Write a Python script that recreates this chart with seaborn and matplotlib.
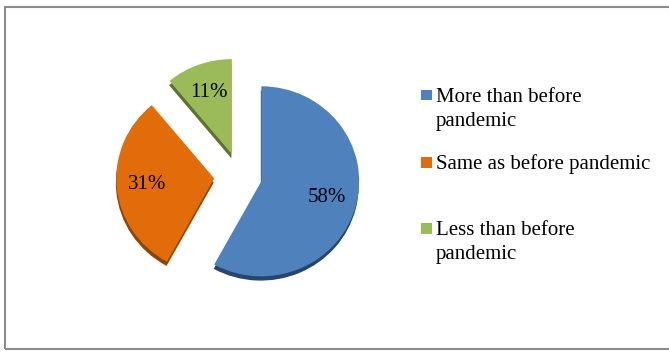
import matplotlib
matplotlib.use("Agg")
import matplotlib.pyplot as plt
from matplotlib.patches import Rectangle
import seaborn as sns

# Survey responses (share of respondents, %)
categories = ["More than before\npandemic", "Same as before pandemic", "Less than before\npandemic"]
shares = [58, 31, 11]
explode = [0.225, 0.265, 0.245]

face_colors = ["#4F81BD", "#E36C0A", "#9BBB59"]
side_colors = ["#27466F", "#8E4608", "#5B7230"]

sns.set_theme(style="white")
plt.rcParams["font.family"] = ["Liberation Serif", "DejaVu Serif"]

W, H = 669, 352
fig = plt.figure(figsize=(W / 100, H / 100), dpi=100)
fig.patch.set_facecolor("white")

# pie axes: centre at (240, 176) px, radius 1 = 95 px, slightly wider than tall
cx, cy, half = 240, 176, 140
ax = fig.add_axes([(cx - half) / W, (H - cy - half) / H, 2 * half / W, 2 * half / H])

# darker side of each slice, slightly below the top face
ax.pie(shares, explode=explode, colors=side_colors, startangle=90,
       counterclock=False, radius=1, center=(-0.005, -0.045),
       wedgeprops=dict(linewidth=0))
# top faces with percentage labels
wedges, _, autotexts = ax.pie(
    shares, explode=explode, colors=face_colors, startangle=90,
    counterclock=False, radius=1, center=(0, 0),
    autopct="%d%%", pctdistance=0.69,
    wedgeprops=dict(linewidth=0),
    textprops=dict(fontsize=15, color="black"))
lim = half / 95
ax.set_aspect("auto")
ax.set_xlim(-lim / 1.03, lim / 1.03)
ax.set_ylim(-lim, lim)
ax.axis("off")

# legend on the right: square key plus wrapped label, one text line per row
baselines = [101.5, 169.3, 235]
line_step = 24.5
for label, color, by in zip(categories, face_colors, baselines):
    fig.add_artist(Rectangle((421 / W, 1 - (by - 1.5) / H), 10.5 / W, 10.5 / H,
                             transform=fig.transFigure, facecolor=color,
                             edgecolor="none"))
    for i, line in enumerate(label.split("\n")):
        fig.text(436 / W, 1 - (by + i * line_step) / H, line, fontsize=15,
                 va="baseline", ha="left", color="black")

# chart frame
fig.add_artist(Rectangle((5 / W, 1 - 349 / H), 700 / W, 342 / H,
                         transform=fig.transFigure, fill=False,
                         edgecolor="#8c8c8c", linewidth=1.5))

fig.savefig("out.png", dpi=100, facecolor="white")
